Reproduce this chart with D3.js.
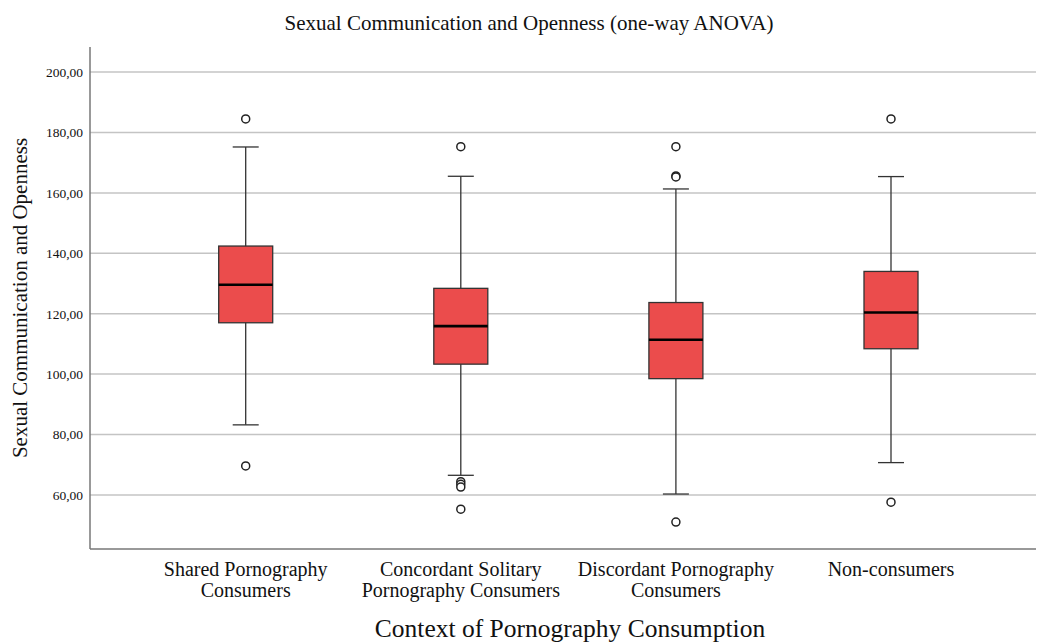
<!DOCTYPE html>
<html>
<head>
<meta charset="utf-8">
<script src="https://cdn.jsdelivr.net/npm/d3@7"></script>
<style>
  body { margin: 0; background: #fff; }
  text { font-family: "Liberation Serif", "Times New Roman", serif; fill: #111; }
</style>
</head>
<body>
<div id="chart"></div>
<script>
// Data
const categories = [
    ['Shared Pornography', 'Consumers'],
    ['Concordant Solitary', 'Pornography Consumers'],
    ['Discordant Pornography', 'Consumers'],
    ['Non-consumers']
];
const lowerWhiskers = [83.2, 66.5, 60.3, 70.7];
const q1Values = [117.0, 103.3, 98.5, 108.4];
const medians = [129.6, 115.9, 111.4, 120.4];
const q3Values = [142.4, 128.4, 123.7, 134.0];
const upperWhiskers = [175.2, 165.5, 161.3, 165.4];
const outliers = [
    [184.5, 69.6],
    [175.3, 64.4, 63.5, 62.6, 55.3],
    [175.3, 165.6, 165.3, 51.0],
    [184.5, 57.6]
];
const yTicks = [60, 80, 100, 120, 140, 160, 180, 200];

const width = 1038, height = 644;
const plot = { left: 90, right: 1036, top: 47, bottom: 549 };

const svg = d3.select('#chart').append('svg')
    .attr('width', width)
    .attr('height', height);

// Scales
const scaleY = d3.scaleLinear()
    .domain([42.1, 208.3])
    .range([plot.bottom, plot.top]);

const scaleX = d3.scalePoint()
    .domain(d3.range(categories.length))
    .range([245.7, 891]);

const boxWidth = 54, capWidth = 26;

// Gridlines
svg.append('g')
    .selectAll('line')
    .data(yTicks)
    .join('line')
    .attr('x1', plot.left)
    .attr('x2', plot.right)
    .attr('y1', d => scaleY(d))
    .attr('y2', d => scaleY(d))
    .attr('stroke', '#c4c4c4')
    .attr('stroke-width', 1.5);

// Y axis
const axisY = svg.append('g')
    .attr('transform', `translate(${plot.left},0)`)
    .call(d3.axisLeft(scaleY)
        .tickValues(yTicks)
        .tickSize(0)
        .tickPadding(7)
        .tickFormat(d => d3.format('.2f')(d).replace('.', ',')));
axisY.select('.domain').remove();
axisY.selectAll('text')
    .style('font-size', '13.5px')
    .style('font-family', '"Liberation Serif", serif')
    .attr('fill', '#222');

// Axis lines
svg.append('line')
    .attr('x1', plot.left).attr('x2', plot.left)
    .attr('y1', plot.top).attr('y2', plot.bottom)
    .attr('stroke', '#777').attr('stroke-width', 1.5);
svg.append('line')
    .attr('x1', plot.left).attr('x2', plot.right)
    .attr('y1', plot.bottom).attr('y2', plot.bottom)
    .attr('stroke', '#777').attr('stroke-width', 1.5);

// Boxes
const groups = svg.append('g')
    .selectAll('g')
    .data(d3.range(categories.length))
    .join('g');

// whiskers
groups.append('line')
    .attr('x1', i => scaleX(i)).attr('x2', i => scaleX(i))
    .attr('y1', i => scaleY(upperWhiskers[i]))
    .attr('y2', i => scaleY(lowerWhiskers[i]))
    .attr('stroke', '#333').attr('stroke-width', 1.3);

groups.selectAll('.cap')
    .data(i => [upperWhiskers[i], lowerWhiskers[i]].map(v => [i, v]))
    .join('line')
    .classed('cap', true)
    .attr('x1', d => scaleX(d[0]) - capWidth / 2)
    .attr('x2', d => scaleX(d[0]) + capWidth / 2)
    .attr('y1', d => scaleY(d[1]))
    .attr('y2', d => scaleY(d[1]))
    .attr('stroke', '#333').attr('stroke-width', 1.3);

groups.append('rect')
    .attr('x', i => scaleX(i) - boxWidth / 2)
    .attr('width', boxWidth)
    .attr('y', i => scaleY(q3Values[i]))
    .attr('height', i => scaleY(q1Values[i]) - scaleY(q3Values[i]))
    .attr('fill', '#eb4c4c')
    .attr('stroke', '#333')
    .attr('stroke-width', 1.3);

groups.append('line')
    .attr('x1', i => scaleX(i) - boxWidth / 2)
    .attr('x2', i => scaleX(i) + boxWidth / 2)
    .attr('y1', i => scaleY(medians[i]))
    .attr('y2', i => scaleY(medians[i]))
    .attr('stroke', '#000').attr('stroke-width', 2.6);

groups.selectAll('circle')
    .data(i => outliers[i].map(v => [i, v]))
    .join('circle')
    .attr('cx', d => scaleX(d[0]))
    .attr('cy', d => scaleY(d[1]))
    .attr('r', 4)
    .attr('fill', '#fff')
    .attr('stroke', '#222')
    .attr('stroke-width', 1.5);

// Category labels
const catLabels = svg.append('g')
    .selectAll('text')
    .data(d3.range(categories.length))
    .join('text')
    .attr('text-anchor', 'middle')
    .style('font-size', '20px');
catLabels.selectAll('tspan')
    .data(i => categories[i].map(t => [i, t]))
    .join('tspan')
    .attr('x', d => scaleX(d[0]))
    .attr('y', (d, j) => 576 + j * 21)
    .text(d => d[1]);

// Titles
svg.append('text')
    .attr('x', 529).attr('y', 30)
    .attr('text-anchor', 'middle')
    .style('font-size', '21px')
    .text('Sexual Communication and Openness (one-way ANOVA)');

svg.append('text')
    .attr('x', 570).attr('y', 637)
    .attr('text-anchor', 'middle')
    .style('font-size', '25.5px')
    .text('Context of Pornography Consumption');

svg.append('text')
    .attr('transform', 'rotate(-90)')
    .attr('x', -298).attr('y', 27)
    .attr('text-anchor', 'middle')
    .style('font-size', '21px')
    .text('Sexual Communication and Openness');
</script>
</body>
</html>
